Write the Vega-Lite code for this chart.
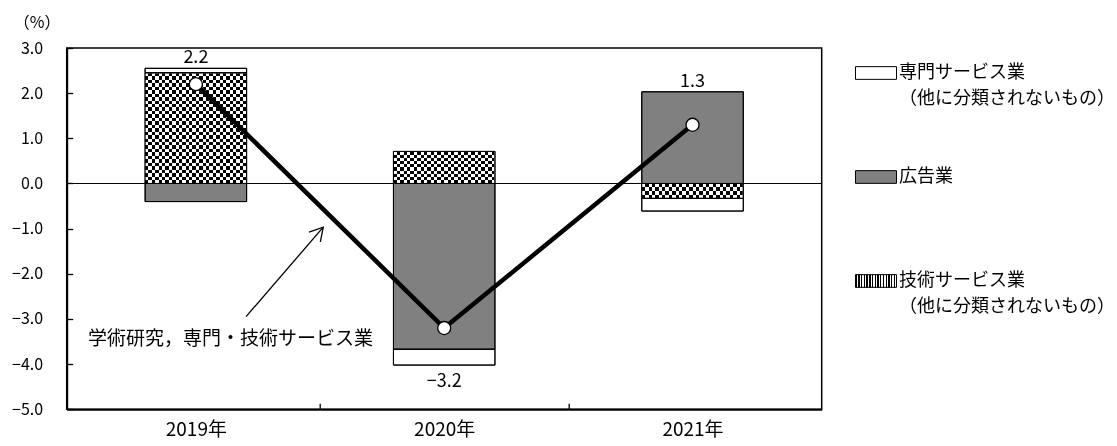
{
  "$schema": "https://vega.github.io/schema/vega-lite/v6.json",
  "autosize": "none",
  "width": 755,
  "height": 361.333,
  "padding": {"left": 66.7, "top": 48, "right": 295.3, "bottom": 36.667},
  "background": "white",
  "config": {
    "font": "Noto Sans CJK JP",
    "view": {"stroke": "black", "strokeWidth": 1.5},
    "axis": {"domainColor": "black", "domainWidth": 2, "tickColor": "black", "tickWidth": 1.3, "labelColor": "black", "grid": false, "titleColor": "black"},
    "style": {"guide-label": {"lineHeight": 26}}
  },
  "data": {"values": [
    {"year": 2019, "series": "専門サービス業", "value": 0.10},
    {"year": 2019, "series": "広告業", "value": -0.40},
    {"year": 2019, "series": "技術サービス業", "value": 2.45},
    {"year": 2020, "series": "専門サービス業", "value": -0.35},
    {"year": 2020, "series": "広告業", "value": -3.67},
    {"year": 2020, "series": "技術サービス業", "value": 0.71},
    {"year": 2021, "series": "専門サービス業", "value": -0.28},
    {"year": 2021, "series": "広告業", "value": 2.03},
    {"year": 2021, "series": "技術サービス業", "value": -0.33},
    {"year": 2019, "series": "学術研究，専門・技術サービス業", "value": 2.2},
    {"year": 2020, "series": "学術研究，専門・技術サービス業", "value": -3.2},
    {"year": 2021, "series": "学術研究，専門・技術サービス業", "value": 1.3}
  ]},
  "transform": [
    {"calculate": "datum.series == '学術研究，専門・技術サービス業'", "as": "isTotal"},
    {"calculate": "indexof(['広告業','技術サービス業','専門サービス業'], datum.series)", "as": "ord"}
  ],
  "layer": [
    {
      "transform": [{"filter": "!datum.isTotal"}],
      "mark": {"type": "bar", "orient": "vertical", "width": 101.5, "stroke": "black", "strokeWidth": 1},
      "encoding": {
        "x": {
          "field": "year", "type": "quantitative", "title": null,
          "scale": {"domain": [2018.5, 2021.5], "nice": false, "zero": false},
          "axis": {
            "values": [2019, 2019.5, 2020, 2020.5, 2021],
            "labelExpr": "datum.value % 1 == 0 ? datum.value + '年' : ''",
            "tickOpacity": {"condition": {"test": "datum.value % 1 == 0", "value": 0}, "value": 1},
            "tickSize": -6,
            "labelPadding": 17.6,
            "labelBaseline": "top",
            "labelFontSize": 19,
            "labelFlush": false,
            "labelOverlap": false
          }
        },
        "y": {
          "field": "value", "type": "quantitative", "stack": "zero", "title": null,
          "scale": {"domain": [-5, 3], "nice": false, "zero": false},
          "axis": {
            "values": [-5, -4, -3, -2, -1, 0, 1, 2, 3],
            "format": ".1f",
            "tickSize": -6,
            "labelPadding": 30,
            "labelFontSize": 16
          }
        },
        "order": {"field": "ord", "type": "quantitative"},
        "fill": {
          "field": "series", "type": "nominal",
          "scale": {
            "domain": ["専門サービス業", "広告業", "技術サービス業"],
            "range": [
              "#ffffff",
              "#808080",
              {"expr": "{gradient:'linear',x1:0,y1:0,x2:1,y2:0,stops:[{offset:0,color:'#000'},{offset:0.0333,color:'#000'},{offset:0.0333,color:'#fff'},{offset:0.0667,color:'#fff'},{offset:0.0667,color:'#000'},{offset:0.1,color:'#000'},{offset:0.1,color:'#fff'},{offset:0.1333,color:'#fff'},{offset:0.1333,color:'#000'},{offset:0.1667,color:'#000'},{offset:0.1667,color:'#fff'},{offset:0.2,color:'#fff'},{offset:0.2,color:'#000'},{offset:0.2333,color:'#000'},{offset:0.2333,color:'#fff'},{offset:0.2667,color:'#fff'},{offset:0.2667,color:'#000'},{offset:0.3,color:'#000'},{offset:0.3,color:'#fff'},{offset:0.3333,color:'#fff'},{offset:0.3333,color:'#000'},{offset:0.3667,color:'#000'},{offset:0.3667,color:'#fff'},{offset:0.4,color:'#fff'},{offset:0.4,color:'#000'},{offset:0.4333,color:'#000'},{offset:0.4333,color:'#fff'},{offset:0.4667,color:'#fff'},{offset:0.4667,color:'#000'},{offset:0.5,color:'#000'},{offset:0.5,color:'#fff'},{offset:0.5333,color:'#fff'},{offset:0.5333,color:'#000'},{offset:0.5667,color:'#000'},{offset:0.5667,color:'#fff'},{offset:0.6,color:'#fff'},{offset:0.6,color:'#000'},{offset:0.6333,color:'#000'},{offset:0.6333,color:'#fff'},{offset:0.6667,color:'#fff'},{offset:0.6667,color:'#000'},{offset:0.7,color:'#000'},{offset:0.7,color:'#fff'},{offset:0.7333,color:'#fff'},{offset:0.7333,color:'#000'},{offset:0.7667,color:'#000'},{offset:0.7667,color:'#fff'},{offset:0.8,color:'#fff'},{offset:0.8,color:'#000'},{offset:0.8333,color:'#000'},{offset:0.8333,color:'#fff'},{offset:0.8667,color:'#fff'},{offset:0.8667,color:'#000'},{offset:0.9,color:'#000'},{offset:0.9,color:'#fff'},{offset:0.9333,color:'#fff'},{offset:0.9333,color:'#000'},{offset:0.9667,color:'#000'},{offset:0.9667,color:'#fff'},{offset:1,color:'#fff'}]}"}
            ]
          },
          "legend": {
            "orient": "none",
            "legendX": 788.3,
            "legendY": 4,
            "title": null,
            "padding": 0,
            "symbolType": "M-1,-0.31L1,-0.31L1,0.31L-1,0.31Z",
            "symbolSize": 1681,
            "symbolStrokeColor": "black",
            "symbolStrokeWidth": 1,
            "labelFontSize": 18,
            "labelColor": "black",
            "labelLimit": 0,
            "labelOffset": 2,
            "rowPadding": 48,
            "labelBaseline": "middle",
            "labelExpr": "datum.label == '広告業' ? ['広告業', ''] : [datum.label, '（他に分類されないもの）']"
          }
        }
      }
    },
    {
      "transform": [{"filter": "!datum.isTotal"}],
      "mark": {"type": "bar", "orient": "vertical", "width": 101.5, "strokeWidth": 0, "blend": "difference"},
      "encoding": {
        "x": {"field": "year", "type": "quantitative", "title": null},
        "y": {"field": "value", "type": "quantitative", "stack": "zero", "title": null},
        "order": {"field": "ord", "type": "quantitative"},
        "detail": {"field": "series", "type": "nominal"},
        "fill": {
          "condition": [
            {"test": "datum.series == '技術サービス業' && datum.year == 2019", "value": {"gradient": "linear", "x1": 0, "y1": 0, "x2": 0, "y2": 1, "stops": [
              {"offset": 0, "color": "#fff"}, {"offset": 0.03125, "color": "#fff"},
              {"offset": 0.03125, "color": "#000"}, {"offset": 0.0625, "color": "#000"},
              {"offset": 0.0625, "color": "#fff"}, {"offset": 0.09375, "color": "#fff"},
              {"offset": 0.09375, "color": "#000"}, {"offset": 0.125, "color": "#000"},
              {"offset": 0.125, "color": "#fff"}, {"offset": 0.15625, "color": "#fff"},
              {"offset": 0.15625, "color": "#000"}, {"offset": 0.1875, "color": "#000"},
              {"offset": 0.1875, "color": "#fff"}, {"offset": 0.21875, "color": "#fff"},
              {"offset": 0.21875, "color": "#000"}, {"offset": 0.25, "color": "#000"},
              {"offset": 0.25, "color": "#fff"}, {"offset": 0.28125, "color": "#fff"},
              {"offset": 0.28125, "color": "#000"}, {"offset": 0.3125, "color": "#000"},
              {"offset": 0.3125, "color": "#fff"}, {"offset": 0.34375, "color": "#fff"},
              {"offset": 0.34375, "color": "#000"}, {"offset": 0.375, "color": "#000"},
              {"offset": 0.375, "color": "#fff"}, {"offset": 0.40625, "color": "#fff"},
              {"offset": 0.40625, "color": "#000"}, {"offset": 0.4375, "color": "#000"},
              {"offset": 0.4375, "color": "#fff"}, {"offset": 0.46875, "color": "#fff"},
              {"offset": 0.46875, "color": "#000"}, {"offset": 0.5, "color": "#000"},
              {"offset": 0.5, "color": "#fff"}, {"offset": 0.53125, "color": "#fff"},
              {"offset": 0.53125, "color": "#000"}, {"offset": 0.5625, "color": "#000"},
              {"offset": 0.5625, "color": "#fff"}, {"offset": 0.59375, "color": "#fff"},
              {"offset": 0.59375, "color": "#000"}, {"offset": 0.625, "color": "#000"},
              {"offset": 0.625, "color": "#fff"}, {"offset": 0.65625, "color": "#fff"},
              {"offset": 0.65625, "color": "#000"}, {"offset": 0.6875, "color": "#000"},
              {"offset": 0.6875, "color": "#fff"}, {"offset": 0.71875, "color": "#fff"},
              {"offset": 0.71875, "color": "#000"}, {"offset": 0.75, "color": "#000"},
              {"offset": 0.75, "color": "#fff"}, {"offset": 0.78125, "color": "#fff"},
              {"offset": 0.78125, "color": "#000"}, {"offset": 0.8125, "color": "#000"},
              {"offset": 0.8125, "color": "#fff"}, {"offset": 0.84375, "color": "#fff"},
              {"offset": 0.84375, "color": "#000"}, {"offset": 0.875, "color": "#000"},
              {"offset": 0.875, "color": "#fff"}, {"offset": 0.90625, "color": "#fff"},
              {"offset": 0.90625, "color": "#000"}, {"offset": 0.9375, "color": "#000"},
              {"offset": 0.9375, "color": "#fff"}, {"offset": 0.96875, "color": "#fff"},
              {"offset": 0.96875, "color": "#000"}, {"offset": 1, "color": "#000"}
            ]}},
            {"test": "datum.series == '技術サービス業' && datum.year == 2020", "value": {"gradient": "linear", "x1": 0, "y1": 0, "x2": 0, "y2": 1, "stops": [
              {"offset": 0, "color": "#fff"}, {"offset": 0.1, "color": "#fff"},
              {"offset": 0.1, "color": "#000"}, {"offset": 0.2, "color": "#000"},
              {"offset": 0.2, "color": "#fff"}, {"offset": 0.3, "color": "#fff"},
              {"offset": 0.3, "color": "#000"}, {"offset": 0.4, "color": "#000"},
              {"offset": 0.4, "color": "#fff"}, {"offset": 0.5, "color": "#fff"},
              {"offset": 0.5, "color": "#000"}, {"offset": 0.6, "color": "#000"},
              {"offset": 0.6, "color": "#fff"}, {"offset": 0.7, "color": "#fff"},
              {"offset": 0.7, "color": "#000"}, {"offset": 0.8, "color": "#000"},
              {"offset": 0.8, "color": "#fff"}, {"offset": 0.9, "color": "#fff"},
              {"offset": 0.9, "color": "#000"}, {"offset": 1, "color": "#000"}
            ]}},
            {"test": "datum.series == '技術サービス業' && datum.year == 2021", "value": {"gradient": "linear", "x1": 0, "y1": 0, "x2": 0, "y2": 1, "stops": [
              {"offset": 0, "color": "#fff"}, {"offset": 0.25, "color": "#fff"},
              {"offset": 0.25, "color": "#000"}, {"offset": 0.5, "color": "#000"},
              {"offset": 0.5, "color": "#fff"}, {"offset": 0.75, "color": "#fff"},
              {"offset": 0.75, "color": "#000"}, {"offset": 1, "color": "#000"}
            ]}}
          ],
          "value": "#000000"
        }
      }
    },
    {
      "transform": [{"filter": "!datum.isTotal"}],
      "mark": {"type": "bar", "orient": "vertical", "width": 101.5, "filled": false, "stroke": "black", "strokeWidth": 1},
      "encoding": {
        "x": {"field": "year", "type": "quantitative", "title": null},
        "y": {"field": "value", "type": "quantitative", "stack": "zero", "title": null},
        "order": {"field": "ord", "type": "quantitative"},
        "detail": {"field": "series", "type": "nominal"}
      }
    },
    {
      "data": {"values": [{}]},
      "mark": {"type": "rule", "color": "black", "strokeWidth": 1},
      "encoding": {"y": {"datum": 0, "type": "quantitative", "title": null}}
    },
    {
      "transform": [{"filter": "datum.isTotal"}],
      "mark": {"type": "line", "color": "black", "strokeWidth": 4.5},
      "encoding": {
        "x": {"field": "year", "type": "quantitative", "title": null},
        "y": {"field": "value", "type": "quantitative", "title": null}
      }
    },
    {
      "transform": [{"filter": "datum.isTotal"}],
      "mark": {"type": "point", "filled": true, "fill": "white", "stroke": "black", "strokeWidth": 1.3, "size": 170, "opacity": 1},
      "encoding": {
        "x": {"field": "year", "type": "quantitative", "title": null},
        "y": {"field": "value", "type": "quantitative", "title": null}
      }
    },
    {
      "transform": [
        {"calculate": "datum.isTotal ? 0 : max(datum.value, 0)", "as": "pos"},
        {"calculate": "datum.isTotal ? 0 : min(datum.value, 0)", "as": "neg"},
        {"calculate": "datum.isTotal ? datum.value : 0", "as": "tot"},
        {"aggregate": [{"op": "sum", "field": "pos", "as": "top"}, {"op": "sum", "field": "neg", "as": "bot"}, {"op": "sum", "field": "tot", "as": "total"}], "groupby": ["year"]},
        {"calculate": "datum.total >= 0 ? datum.top : datum.bot", "as": "anchor"}
      ],
      "layer": [
        {
          "transform": [{"filter": "datum.total >= 0"}],
          "mark": {"type": "text", "baseline": "bottom", "dy": -1, "fontSize": 18, "color": "black"},
          "encoding": {
            "x": {"field": "year", "type": "quantitative", "title": null},
            "y": {"field": "anchor", "type": "quantitative", "title": null},
            "text": {"field": "total", "type": "quantitative", "format": ".1f"}
          }
        },
        {
          "transform": [{"filter": "datum.total < 0"}],
          "mark": {"type": "text", "baseline": "top", "dy": 8, "fontSize": 18, "color": "black"},
          "encoding": {
            "x": {"field": "year", "type": "quantitative", "title": null},
            "y": {"field": "anchor", "type": "quantitative", "title": null},
            "text": {"field": "total", "type": "quantitative", "format": ".1f"}
          }
        }
      ]
    },
    {
      "data": {"values": [{}]},
      "mark": {"type": "rule", "color": "black", "strokeWidth": 1.3},
      "encoding": {
        "x": {"datum": 2019.202, "type": "quantitative", "title": null},
        "x2": {"datum": 2019.513},
        "y": {"datum": -2.948, "type": "quantitative", "title": null},
        "y2": {"datum": -0.967}
      }
    },
    {
      "data": {"values": [{}]},
      "mark": {"type": "point", "shape": "M-0.5,0.866L0,0L0.5,0.866", "filled": false, "stroke": "black", "strokeWidth": 1.3, "size": 900, "angle": 41.2, "opacity": 1},
      "encoding": {
        "x": {"datum": 2019.513, "type": "quantitative", "title": null},
        "y": {"datum": -0.967, "type": "quantitative", "title": null}
      }
    },
    {
      "data": {"values": [{}]},
      "mark": {"type": "text", "fontSize": 19, "color": "black", "align": "center", "baseline": "middle"},
      "encoding": {
        "x": {"datum": 2019.139, "type": "quantitative", "title": null},
        "y": {"datum": -3.45, "type": "quantitative", "title": null},
        "text": {"value": "学術研究，専門・技術サービス業"}
      }
    },
    {
      "data": {"values": [{}]},
      "mark": {"type": "text", "fontSize": 16, "color": "black", "align": "center", "baseline": "middle"},
      "encoding": {
        "x": {"datum": 2018.361, "type": "quantitative", "title": null},
        "y": {"datum": 3.553, "type": "quantitative", "title": null},
        "text": {"value": "（%）"}
      }
    }
  ]
}
